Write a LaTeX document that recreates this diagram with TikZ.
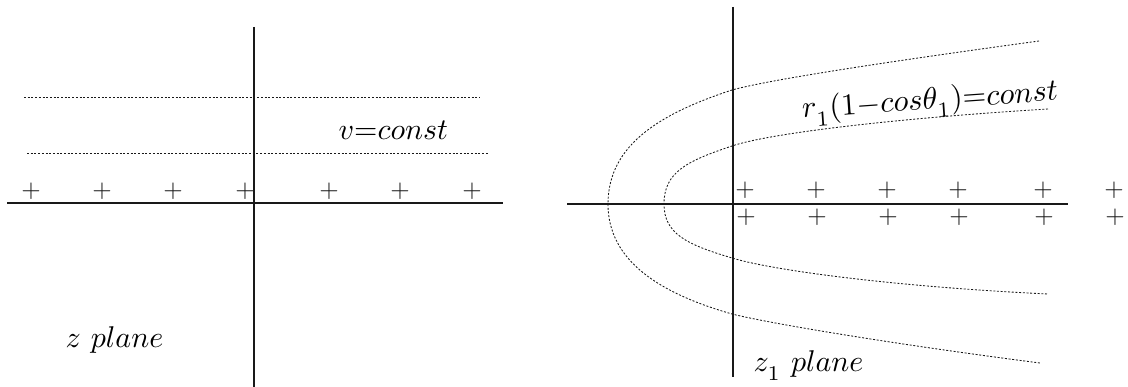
\documentclass[tikz,border=0pt]{standalone}
\newcommand{\lowsub}{\raisebox{-1.5pt}{$\scriptstyle 1$}}
\begin{document}
\begin{tikzpicture}[x=1pt,y=-1pt,
  axis/.style={line width=1.1pt, draw=black!90},
  dotline/.style={line width=0.85pt, dash pattern=on 2pt off 1.7pt, draw=black!90},
  pl/.style={inner sep=0pt, scale=2.5, text=black!90},
  lbl/.style={inner sep=0pt, anchor=base west, scale=3}]
\useasboundingbox (0,0) rectangle (1128,387);
% ---------- left panel: z plane ----------
\coordinate (hl1) at (7,203);   \coordinate (hl2) at (503,203);
\coordinate (vl1) at (254,27);  \coordinate (vl2) at (254,387);
\draw[axis] (hl1) -- (hl2);
\draw[axis] (vl1) -- (vl2);
\coordinate (d1a) at (24,97);  \coordinate (d1b) at (480,97);
\coordinate (d2a) at (27,153); \coordinate (d2b) at (489,153);
\draw[dotline] (d1a) -- (d1b);
\draw[dotline] (d2a) -- (d2b);
\foreach \x [count=\i] in {31,102,173,245,329,400,472}
  \node[pl] (pz\i) at (\x,191) {$+$};
\node[lbl] (vc) at (338,140) {$v\mathord{=}const$};
\node[lbl] (zp) at (65,348) {$z\ plane$};
% ---------- right panel: z1 plane ----------
\coordinate (hr1) at (567,204);  \coordinate (hr2) at (1068,204);
\coordinate (vr1) at (733,7);    \coordinate (vr2) at (733,377);
\draw[axis] (hr1) -- (hr2);
\draw[axis] (vr1) -- (vr2);
\foreach \x [count=\i] in {745,816,887,958,1043,1114}{
  \node[pl] (pa\i) at (\x,190) {$+$};
  \node[pl] (pb\i) at (\x+1,217) {$+$};
}
% outer curve
\coordinate (oT) at (1039,41);  \coordinate (oA) at (732,90);
\coordinate (oV) at (608,204);  \coordinate (oB) at (732,314);
\coordinate (oE) at (1040,363);
\draw[dotline] (oT) .. controls (900,60) and (772,79) .. (oA)
  .. controls (662,113) and (608,144) .. (oV)
  .. controls (608,262) and (662,294) .. (oB)
  .. controls (772,324) and (900,345) .. (oE);
% inner curve
\coordinate (iT) at (1048,109); \coordinate (iA) at (732,146);
\coordinate (iV) at (664,204);  \coordinate (iB) at (732,258);
\coordinate (iE) at (1048,294);
\draw[dotline] (iT) .. controls (900,118) and (770,133) .. (iA)
  .. controls (687,161) and (664,172) .. (iV)
  .. controls (664,234) and (687,244.5) .. (iB)
  .. controls (775,271) and (900,287) .. (iE);
\node[lbl, rotate=4, scale=1.02] (rc) at (802,118) {$r_{\lowsub}(1\mathord{-}cos\theta_{\lowsub})\mathord{=}const$};
\node[lbl] (z1p) at (753,372) {$z_{\lowsub}\ plane$};
\end{tikzpicture}
\end{document}
